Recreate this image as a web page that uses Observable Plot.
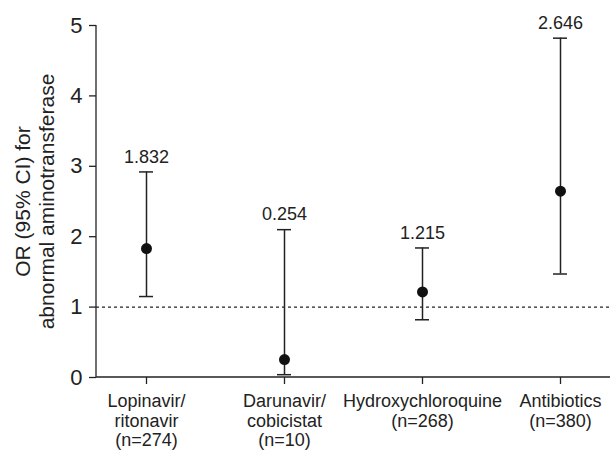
<!DOCTYPE html>
<html><head><meta charset="utf-8">
<script src="https://cdn.jsdelivr.net/npm/d3@7"></script>
<script src="https://cdn.jsdelivr.net/npm/@observablehq/plot@0.6"></script>
<style>body{margin:0;background:#fff;font-family:"Liberation Sans",Arial,sans-serif}</style>
</head><body><div id="chart"></div>
<script>
const drugs = ["Lopinavir/\nritonavir", "Darunavir/\ncobicistat", "Hydroxychloroquine", "Antibiotics"];
const counts = [274, 10, 268, 380];
const oddsRatio = [1.832, 0.254, 1.215, 2.646];
const ciLower = [1.15, 0.04, 0.82, 1.47];
const ciUpper = [2.92, 2.10, 1.84, 4.82];
const yTicks = [0, 1, 2, 3, 4, 5];
const yLabel = "OR (95% CI) for\nabnormal aminotransferase";

const rows = drugs.map((d, i) => ({drug: d, n: counts[i], or: oddsRatio[i], lower: ciLower[i], upper: ciUpper[i]}));
const nOf = new Map(rows.map(r => [r.drug, r.n]));
const ink = "#222";

const spines = (index, scales, values, dims) => {
  const {width, height, marginLeft, marginRight, marginTop, marginBottom} = dims;
  const g = d3.create("svg:g").attr("stroke", ink).attr("stroke-width", 1.3);
  g.append("line").attr("x1", marginLeft).attr("x2", marginLeft).attr("y1", marginTop).attr("y2", height - marginBottom);
  g.append("line").attr("x1", marginLeft).attr("x2", width - marginRight).attr("y1", height - marginBottom).attr("y2", height - marginBottom);
  return g.node();
};

const chart = Plot.plot({
  width: 610,
  height: 450,
  marginLeft: 96,
  marginRight: 0,
  marginTop: 25,
  marginBottom: 73,
  style: {fontFamily: "Liberation Sans, Arial, sans-serif", color: ink, background: "#fff"},
  x: {type: "band", domain: drugs, paddingInner: 0.9, paddingOuter: 0.302, label: null},
  y: {domain: [0, 5], label: null},
  marks: [
    Plot.ruleY([1], {stroke: ink, strokeWidth: 1.2, strokeDasharray: "3,3"}),
    Plot.ruleX(rows, {x: "drug", y1: "lower", y2: "upper", stroke: ink, strokeWidth: 1.5}),
    Plot.tickY(rows, {x: "drug", y: "upper", stroke: ink, strokeWidth: 1.5}),
    Plot.tickY(rows, {x: "drug", y: "lower", stroke: ink, strokeWidth: 1.5}),
    Plot.dot(rows, {x: "drug", y: "or", r: 5.5, fill: "#111", stroke: "none"}),
    Plot.text(rows, {x: "drug", y: "upper", text: d => d.or.toFixed(3), dy: -15, fontSize: 18, fill: ink, lineAnchor: "middle"}),
    Plot.axisY({ticks: yTicks, tickFormat: "d", tickSize: 7, tickPadding: 7, fontSize: 22, label: null, stroke: ink, strokeWidth: 1.3, fill: ink}),
    Plot.axisX({tickSize: 7, tickPadding: 9, fontSize: 18, lineHeight: 1.08, label: null, stroke: ink, strokeWidth: 1.3, fill: ink,
      tickFormat: d => `${d}\n(n=${nOf.get(d)})`}),
    spines,
    Plot.text([yLabel], {text: d => d, frameAnchor: "left", textAnchor: "middle", lineAnchor: "middle", rotate: -90, dx: -62.5, fontSize: 21, lineHeight: 1.19, fill: ink})
  ]
});
document.getElementById("chart").append(chart);
</script>
</body></html>
